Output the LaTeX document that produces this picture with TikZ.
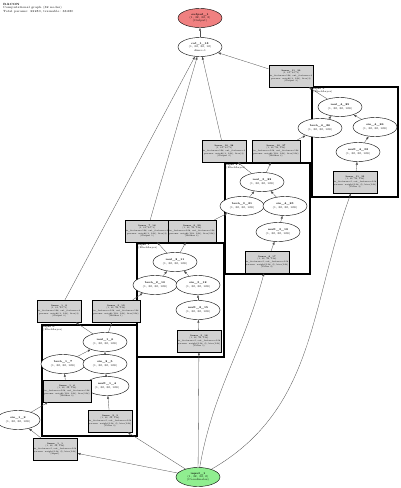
\documentclass[tikz,border=0pt]{standalone}
\usepackage{tikz}
\usetikzlibrary{arrows.meta,shapes.geometric}
\definecolor{outred}{HTML}{F08080}
\definecolor{ingreen}{HTML}{90EE90}

\begin{document}
\begin{tikzpicture}[
  x=1pt, y=-1pt,
  op/.style={ellipse, draw, fill=white, minimum width=44pt, minimum height=19pt, inner sep=0pt, align=center, font=\fontsize{2.7}{3.3}\selectfont},
  lin/.style={draw, fill=gray!35, minimum width=44pt, minimum height=22pt, inner sep=1pt, align=center, font=\fontsize{2.1}{2.7}\selectfont},
  blk/.style={draw, line width=1.3pt},
  blklab/.style={anchor=north west, inner sep=1pt, align=left, font=\fontsize{2.5}{2.9}\selectfont},
  arr/.style={-{Latex[length=3pt,width=2.2pt]}, draw=black!70, line width=0.3pt}
]
\useasboundingbox (0,0) rectangle (400,488);

% title
\node[anchor=north west, inner sep=0pt, align=left, font=\fontsize{3}{3.6}\selectfont] (title) at (3,3)
  {\textbf{BACON}\\Computational graph (32 nodes)\\Total params: 33\,280, trainable: 33\,280};

% blocks
\draw[blk] (312,87) rectangle (398,197);
\node[blklab] (lab3) at (312,87) {\textbf{layer 3}\\(BlockLayer)};
\draw[blk] (225,163) rectangle (310,274);
\node[blklab] (lab2) at (225,163) {\textbf{layer 2}\\(BlockLayer)};
\draw[blk] (137,243) rectangle (224,357);
\node[blklab] (lab1) at (137,243) {\textbf{layer 1}\\(BlockLayer)};
\draw[blk] (42,325) rectangle (137,436);
\node[blklab] (lab0) at (42,325) {\textbf{layer 0}\\(BlockLayer)};

% output side
\node[op, fill=outred] (out) at (200,18) {\textbf{output\_1}\\(1, 32, 32, 3)\\(Output)};
\node[op] (cat) at (200,47) {\textbf{cat\_1\_18}\\(1, 32, 32, 12)\\dim=-1};
\node[lin] (lin1130) at (291,76) {\textbf{linear\_11\_30}\\(1, 32, 32, 3)\\in\_features=128, out\_features=3\\params: weight(3, 128), bias(3)\\(Output 3)};

% layer 3
\node[op] (mul425) at (340,107) {\textbf{mul\_4\_25}\\(1, 32, 32, 128)};
\node[op] (tanh426) at (320,128) {\textbf{tanh\_4\_26}\\(1, 32, 32, 128)};
\node[op] (sin426) at (375,127) {\textbf{sin\_4\_26}\\(1, 32, 32, 128)};
\node[op] (mult432) at (358,152) {\textbf{mult\_4\_32}\\(1, 32, 32, 128)};
\node[lin] (lin1133) at (355,182) {\textbf{linear\_11\_33}\\(1, 32, 32, 128)\\in\_features=2, out\_features=128\\params: weight(128, 2), bias(128)\\(Filter 3)};

% layer 2
\node[lin] (lin1028) at (224,151) {\textbf{linear\_10\_28}\\(1, 32, 32, 3)\\in\_features=128, out\_features=3\\params: weight(3, 128), bias(3)\\(Output 2)};
\node[lin] (lin1027) at (276,151) {\textbf{linear\_10\_27}\\(1, 32, 32, 128)\\in\_features=128, out\_features=128\\params: weight(128, 128), bias(128)\\(Hidden 3)};
\node[op] (mul322) at (262,182) {\textbf{mul\_3\_22}\\(1, 32, 32, 128)};
\node[op] (tanh321) at (242,206) {\textbf{tanh\_3\_21}\\(1, 32, 32, 128)};
\node[op] (sin423) at (285,206) {\textbf{sin\_4\_23}\\(1, 32, 32, 128)};
\node[op] (mult318) at (278,232) {\textbf{mult\_3\_18}\\(1, 32, 32, 128)};
\node[lin] (lin817) at (267,262) {\textbf{linear\_8\_17}\\(1, 32, 32, 128)\\in\_features=2, out\_features=128\\params: weight(128, 2), bias(128)\\(Filter 2)};

% layer 1
\node[lin] (lin716) at (147,231) {\textbf{linear\_7\_16}\\(1, 32, 32, 3)\\in\_features=128, out\_features=3\\params: weight(3, 128), bias(3)\\(Output 1)};
\node[lin] (lin929) at (192,231) {\textbf{linear\_9\_29}\\(1, 32, 32, 128)\\in\_features=128, out\_features=128\\params: weight(128, 128), bias(128)\\(Hidden 2)};
\node[op] (mul211) at (175,262) {\textbf{mul\_2\_11}\\(1, 32, 32, 128)};
\node[op] (tanh210) at (155,285) {\textbf{tanh\_2\_10}\\(1, 32, 32, 128)};
\node[op] (sin312) at (198,285) {\textbf{sin\_3\_12}\\(1, 32, 32, 128)};
\node[op] (mult215) at (198,310) {\textbf{mult\_2\_15}\\(1, 32, 32, 128)};
\node[lin] (lin318) at (199,341) {\textbf{linear\_3\_18}\\(1, 32, 32, 128)\\in\_features=2, out\_features=128\\params: weight(128, 2), bias(128)\\(Filter 1)};

% layer 0
\node[lin] (lin19) at (59,311) {\textbf{linear\_1\_9}\\(1, 32, 32, 3)\\in\_features=128, out\_features=3\\params: weight(3, 128), bias(3)\\(Output 0)};
\node[lin] (lin312) at (116,311) {\textbf{linear\_3\_12}\\(1, 32, 32, 128)\\in\_features=128, out\_features=128\\params: weight(128, 128), bias(128)\\(Hidden 1)};
\node[op] (mul16) at (105,342) {\textbf{mul\_1\_6}\\(1, 32, 32, 128)};
\node[op] (tanh17) at (63,364) {\textbf{tanh\_1\_7}\\(1, 32, 32, 128)};
\node[op] (sin25) at (105,364) {\textbf{sin\_2\_5}\\(1, 32, 32, 128)};
\node[op] (mult14) at (107,386) {\textbf{mult\_1\_4}\\(1, 32, 32, 128)};
\node[lin] (lin16) at (67,391) {\textbf{linear\_1\_6}\\(1, 32, 32, 128)\\in\_features=128, out\_features=128\\params: weight(128, 128), bias(128)\\(Hidden 0)};
\node[lin] (lin23) at (110,421) {\textbf{linear\_2\_3}\\(1, 32, 32, 128)\\in\_features=2, out\_features=128\\params: weight(128, 2), bias(128)\\(Filter 0)};

% input side
\node[op] (sin12) at (18,420) {\textbf{sin\_1\_2}\\(1, 32, 32, 128)};
\node[lin] (lin11) at (55,449) {\textbf{linear\_1\_1}\\(1, 32, 32, 128)\\in\_features=2, out\_features=128\\params: weight(128, 2), bias(128)\\(Input)};
\node[op, fill=ingreen] (in) at (198,477) {\textbf{input\_1}\\(1, 32, 32, 2)\\(Coordinates)};

% edges
\draw[arr] (in) -- (lin11);
\draw[arr] (in) -- (lin23);
\draw[arr] (in) -- (lin318);
\draw[arr] (in) to[out=80, in=-105] (lin817);
\draw[arr] (in) to[out=30, in=-110] (lin1133);
\draw[arr] (lin11) -- (sin12);
\draw[arr] (sin12) -- (lin16);
\draw[arr] (lin23) -- (mult14);
\draw[arr] (mult14) -- (sin25);
\draw[arr] (sin25) -- (mul16);
\draw[arr] (lin16) -- (tanh17);
\draw[arr] (tanh17) -- (mul16);
\draw[arr] (mul16) -- (lin19);
\draw[arr] (mul16) -- (lin312);
\draw[arr] (lin19) -- (cat);
\draw[arr] (lin312) -- (tanh210);
\draw[arr] (lin318) -- (mult215);
\draw[arr] (mult215) -- (sin312);
\draw[arr] (sin312) -- (mul211);
\draw[arr] (tanh210) -- (mul211);
\draw[arr] (mul211) -- (lin716);
\draw[arr] (mul211) -- (lin929);
\draw[arr] (lin716) -- (cat);
\draw[arr] (lin929) -- (tanh321);
\draw[arr] (lin817) -- (mult318);
\draw[arr] (mult318) -- (sin423);
\draw[arr] (sin423) -- (mul322);
\draw[arr] (tanh321) -- (mul322);
\draw[arr] (mul322) -- (lin1028);
\draw[arr] (mul322) -- (lin1027);
\draw[arr] (lin1028) -- (cat);
\draw[arr] (lin1027) -- (tanh426);
\draw[arr] (lin1133) -- (mult432);
\draw[arr] (mult432) -- (sin426);
\draw[arr] (sin426) -- (mul425);
\draw[arr] (tanh426) -- (mul425);
\draw[arr] (mul425) -- (lin1130);
\draw[arr] (lin1130) -- (cat);
\draw[arr] (cat) -- (out);
\end{tikzpicture}
\end{document}
